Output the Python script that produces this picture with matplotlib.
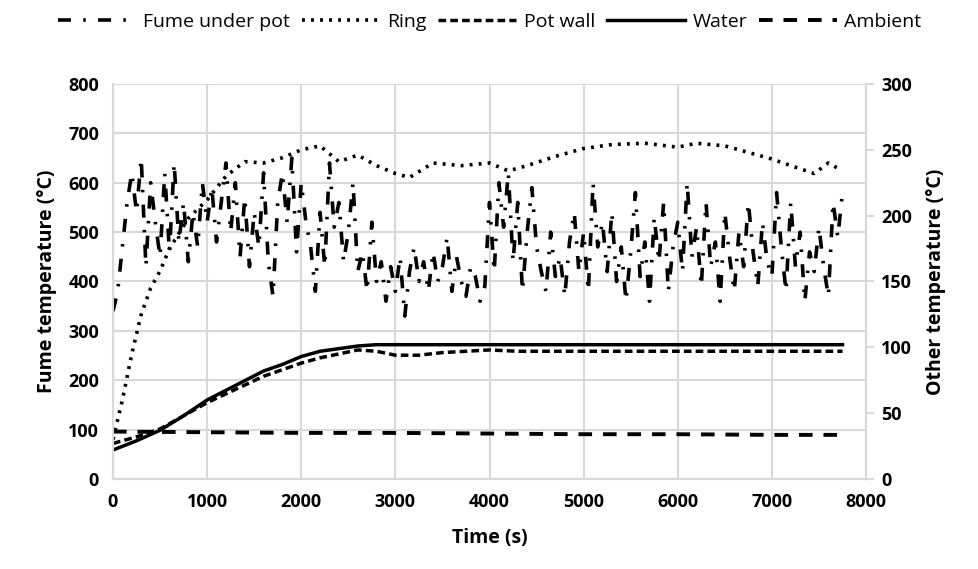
from matplotlib import pyplot as plt
import numpy as np

plt.rcParams['font.family'] = ['Open Sans', 'DejaVu Sans']

# fume under pot, left axis, one reading every 50 s
fume_time = np.arange(0, 7751, 50)
fume_temp = [340, 380, 470, 560, 620, 540, 650, 430, 600, 520,
             450, 620, 460, 640, 480, 560, 440, 540, 470, 600,
             520, 590, 480, 560, 640, 500, 600, 450, 570, 430,
             540, 470, 620, 440, 370, 560, 620, 520, 650, 460,
             600, 520, 470, 380, 540, 430, 640, 510, 560, 440,
             500, 600, 420, 460, 380, 520, 400, 440, 360, 430,
             380, 450, 330, 420, 470, 400, 440, 380, 460, 400,
             430, 490, 380, 450, 400, 370, 430, 410, 360, 390,
             560, 420, 600, 510, 620, 440, 560, 380, 500, 590,
             470, 420, 380, 500, 410, 450, 370, 480, 540, 420,
             500, 380, 600, 470, 520, 420, 540, 400, 470, 360,
             460, 580, 410, 480, 360, 530, 440, 560, 380, 470,
             520, 420, 600, 450, 510, 390, 560, 430, 480, 360,
             540, 450, 380, 500, 430, 560, 460, 390, 520, 440,
             410, 580, 470, 380, 560, 430, 500, 360, 460, 420,
             510, 430, 370, 560, 490, 580]

# ring, right axis
ring_time = [0, 100, 200, 300, 400, 500, 600, 800, 1000, 1200, 1400, 1600, 1800,
             2000, 2200, 2400, 2600, 2800, 3000, 3150, 3400, 3700, 4000, 4200,
             4400, 4700, 5000, 5300, 5650, 6000, 6200, 6500, 6800, 7000, 7200,
             7450, 7600, 7700]
ring_temp = [30, 60, 95, 125, 145, 158, 175, 198, 212, 230, 241, 240, 244,
             250, 253, 241, 246, 238, 232, 229, 240, 238, 240, 234,
             238, 245, 251, 254, 255, 252, 255, 253, 247, 243, 238,
             232, 240, 236]

# pot wall and water, right axis
slow_time = [0, 250, 500, 750, 1000, 1300, 1600, 1800, 2000, 2200, 2400, 2600,
             2800, 3000, 3250, 3500, 3750, 4000, 4300, 5000, 6000, 7000, 7750]
wall_temp = [27, 32, 38, 48, 58, 68, 78, 83, 88, 92, 95, 98,
             97, 94, 94, 96, 97, 98, 97, 97, 97, 97, 97]
water_temp = [22, 29, 37, 48, 60, 71, 82, 87, 93, 97, 99, 101,
              102, 102, 102, 102, 102, 102, 102, 102, 102, 102, 102]

# ambient, right axis
amb_time = [0, 1000, 2000, 3000, 4000, 5000, 6000, 7000, 7750]
amb_temp = [36, 35.5, 35, 35, 34.5, 34, 34, 33.5, 33.5]

fig = plt.figure(figsize=(9.79, 5.69), dpi=100)
ax = fig.add_axes([0.1154, 0.1582, 0.7692, 0.6942])
ax2 = ax.twinx()

grid_c = '#d9d9d9'
f_fume, = ax.plot(fume_time, fume_temp, color='black', lw=2.6, dashes=(3.6, 3.4, 0.7, 3.4), zorder=3)
f_ring, = ax2.plot(ring_time, ring_temp, color='black', lw=2.6, dashes=(0.8, 1.7))
f_wall, = ax2.plot(slow_time, wall_temp, color='black', lw=2.5, dashes=(2.2, 1.2))
f_water, = ax2.plot(slow_time, water_temp, color='black', lw=2.5)
f_amb, = ax2.plot(amb_time, amb_temp, color='black', lw=2.8, dashes=(3.5, 2.8))

ax.set_xlim(0, 8000)
ax.set_ylim(0, 800)
ax2.set_ylim(0, 300)
ax.set_xticks(np.arange(0, 8001, 1000))
ax.set_yticks(np.arange(0, 801, 100))
ax2.set_yticks(np.arange(0, 301, 50))
ax.grid(True, color=grid_c, lw=1.5)
ax.set_axisbelow(True)

for a in (ax, ax2):
    for s in a.spines.values():
        s.set_color(grid_c)
        s.set_linewidth(1.5)
    a.spines['top'].set_visible(False)
ax.tick_params(axis='both', length=0, labelsize=13, pad=10)
ax2.tick_params(axis='y', length=6, color=grid_c, width=1.5, labelsize=13, pad=5)
for lab in ax.get_xticklabels() + ax.get_yticklabels() + ax2.get_yticklabels():
    lab.set_fontweight('bold')

ax.set_xlabel('Time (s)', fontsize=14, fontweight='bold', labelpad=12)
ax.set_ylabel('Fume temperature (°C)', fontsize=14, fontweight='bold', labelpad=8)
ax2.set_ylabel('Other temperature (°C)', fontsize=14, fontweight='bold', labelpad=10)

fig.legend([f_fume, f_ring, f_wall, f_water, f_amb],
           ['Fume under pot', 'Ring', 'Pot wall', 'Water', 'Ambient'],
           loc='center', bbox_to_anchor=(0.5, 0.962), ncol=5, frameon=False,
           handlelength=4.0, handletextpad=0.4, columnspacing=0.6,
           prop={'size': 14})

fig.savefig('out.png', dpi=100)
